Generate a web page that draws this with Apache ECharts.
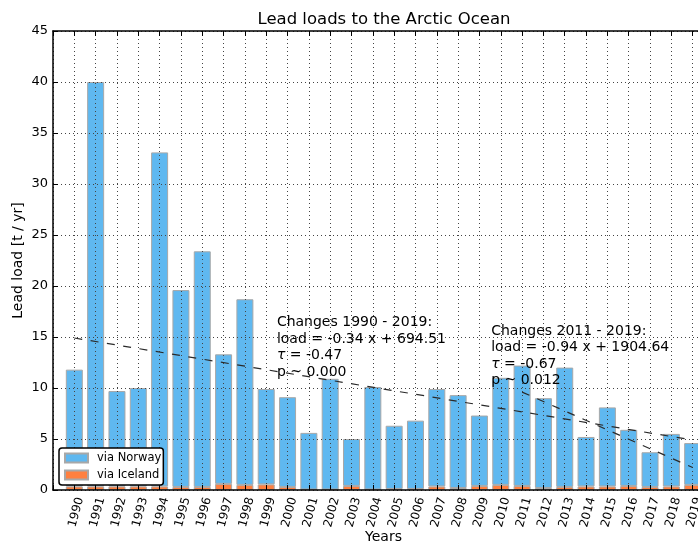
<!DOCTYPE html>
<html>
<head>
<meta charset="utf-8">
<script src="https://cdn.jsdelivr.net/npm/echarts@6/dist/echarts.min.js"></script>
<style>
  html, body { margin: 0; padding: 0; background: #fff; }
  #chart { width: 698px; height: 547px; }
</style>
</head>
<body>
<div id="chart"></div>
<script>
// 数据
var years = ['1990', '1991', '1992', '1993', '1994', '1995', '1996', '1997', '1998', '1999',
             '2000', '2001', '2002', '2003', '2004', '2005', '2006', '2007', '2008', '2009',
             '2010', '2011', '2012', '2013', '2014', '2015', '2016', '2017', '2018', '2019'];
// 轴两端留白的年份 (xlim 1989 - 2020)
var padLeft = '1989';
var padRight = '2020';
var iceland = [0.35, 0.35, 0.35, 0.35, 0.35, 0.3, 0.3, 0.6, 0.5, 0.55,
               0.3, 0.05, 0.05, 0.4, 0.05, 0.1, 0.1, 0.35, 0.2, 0.4,
               0.5, 0.4, 0.2, 0.3, 0.35, 0.35, 0.4, 0.3, 0.35, 0.5];
var norway = [11.45, 39.65, 9.35, 9.65, 32.75, 19.3, 23.1, 12.7, 18.2, 9.35,
              8.8, 5.55, 10.85, 4.6, 10.05, 6.2, 6.7, 9.55, 9.1, 6.9,
              10.5, 11.8, 8.8, 11.7, 4.85, 7.75, 5.5, 3.4, 5.15, 4.1];
// trend lines (start/end points)
var trendAll = [['1990', 14.9], ['2019', 4.9]];
var trendRecent = [['2011', 9.6], ['2019', 2.2]];
var yTicks = [0, 5, 10, 15, 20, 25, 30, 35, 40, 45];

var notes = [
    { year: 1999.5, y: 17.2, lines: ['Changes 1990 - 2019:', 'load = -0.34 x + 694.51', '{t|τ} = -0.47', 'p ~ 0.000'] },
    { year: 2009.55, y: 16.4, lines: ['Changes 2011 - 2019:', 'load = -0.94 x + 1904.64', '{t|τ} = -0.67', 'p ~ 0.012'] }
];

var FONT = 'DejaVu Sans';
var myChart = echarts.init(document.getElementById('chart'));

var cats = [padLeft].concat(years, [padRight]);

function pairs(vals) {
    var out = [];
    for (var i = 0; i < years.length; i++) {
        out.push([years[i], vals[i]]);
    }
    return out;
}

var xBase = {
    type: 'category',
    data: cats,
    boundaryGap: false,
    z: 3,
    axisLine: { show: true, onZero: false, lineStyle: { color: '#000', width: 1.5 } },
    axisTick: { show: true, inside: true, length: 5, interval: 0, lineStyle: { color: '#000' } }
};

var trendStyle = { color: '#2a2a2a', width: 1.2, type: [8, 8.5] };

var option = {
    animation: false,
    textStyle: { fontFamily: FONT },
    title: {
        text: 'Lead loads to the Arctic Ocean',
        left: 379,
        textAlign: 'center',
        top: 6,
        textStyle: { fontFamily: FONT, fontSize: 16.5, fontWeight: 'normal', color: '#000' }
    },
    legend: {
        orient: 'vertical',
        left: 59,
        top: 448,
        data: ['via Norway', 'via Iceland'],
        icon: 'rect',
        itemWidth: 23,
        itemHeight: 9,
        itemGap: 3,
        padding: [3, 2, 3, 5],
        backgroundColor: '#fff',
        borderColor: '#000',
        borderWidth: 1.5,
        borderRadius: 3,
        z: 10,
        textStyle: { fontFamily: FONT, fontSize: 11.5, color: '#000', lineHeight: 14, padding: [0, 0, 0, 4] }
    },
    grid: { left: 53, top: 31, bottom: 57, right: -16, outerBoundsMode: 'none', containLabel: false },
    xAxis: [
        Object.assign({}, xBase, {
            position: 'bottom',
            name: 'Years',
            nameLocation: 'middle',
            nameGap: 40,
            nameMoveOverlap: false,
            nameTextStyle: { fontFamily: FONT, fontSize: 14, color: '#000' },
            axisLabel: {
                interval: 0,
                rotate: 75,
                margin: 6,
                verticalAlign: 'top',
                fontSize: 12,
                color: '#000',
                fontFamily: FONT,
                formatter: function (v) {
                    return (v === padLeft || v === padRight) ? '' : v;
                }
            },
            splitLine: { show: true, interval: 0, lineStyle: { color: '#444', width: 1, type: [1, 3] } }
        }),
        Object.assign({}, xBase, {
            position: 'top',
            axisLabel: { show: false },
            splitLine: { show: false }
        })
    ],
    yAxis: {
        type: 'value',
        min: yTicks[0],
        max: yTicks[yTicks.length - 1],
        interval: 5,
        z: 3,
        name: 'Lead load [t / yr]',
        nameLocation: 'middle',
        nameGap: 28,
        nameMoveOverlap: false,
        nameTextStyle: { fontFamily: FONT, fontSize: 14, color: '#000' },
        axisLine: { show: true, lineStyle: { color: '#000', width: 1.5 } },
        axisTick: { show: true, inside: true, length: 5, lineStyle: { color: '#000' } },
        axisLabel: { margin: 5, fontSize: 13, color: '#000', fontFamily: FONT },
        splitLine: { show: true, lineStyle: { color: '#444', width: 1, type: [1, 3] } }
    },
    series: [
        {
            name: 'via Iceland',
            type: 'bar',
            stack: 'total',
            barWidth: 17,
            data: pairs(iceland),
            itemStyle: { color: '#ff8040', borderColor: '#a8a8a8', borderWidth: 1 }
        },
        {
            name: 'via Norway',
            type: 'bar',
            stack: 'total',
            barWidth: 17,
            data: pairs(norway),
            itemStyle: { color: '#5fb8f0', borderColor: '#a8a8a8', borderWidth: 1 }
        },
        {
            name: 'trend 1990-2019',
            type: 'line',
            data: trendAll,
            showSymbol: false,
            silent: true,
            z: 4,
            lineStyle: trendStyle
        },
        {
            name: 'trend 2011-2019',
            type: 'line',
            data: trendRecent,
            showSymbol: false,
            silent: true,
            z: 4,
            lineStyle: trendStyle
        }
    ]
};

myChart.setOption(option);

// 注释文字 (年份可为小数, 在两个类目之间插值)
function toPixel(year, val) {
    var a = Math.floor(year);
    var f = year - a;
    var p0 = myChart.convertToPixel({ xAxisIndex: 0, yAxisIndex: 0 }, [String(a), val]);
    var p1 = myChart.convertToPixel({ xAxisIndex: 0, yAxisIndex: 0 }, [String(a + 1), val]);
    return [p0[0] + (p1[0] - p0[0]) * f, p0[1]];
}

var graphics = notes.map(function (n) {
    var p = toPixel(n.year, n.y);
    return {
        type: 'text',
        x: p[0],
        y: p[1],
        z: 20,
        style: {
            text: n.lines.join('\n'),
            fontFamily: FONT,
            fontSize: 14,
            lineHeight: 16.5,
            fill: '#000',
            align: 'left',
            verticalAlign: 'top',
            rich: {
                t: { fontFamily: FONT, fontSize: 14, fontStyle: 'italic', lineHeight: 16.5 }
            }
        }
    };
});
myChart.setOption({ graphic: graphics });
</script>
</body>
</html>
